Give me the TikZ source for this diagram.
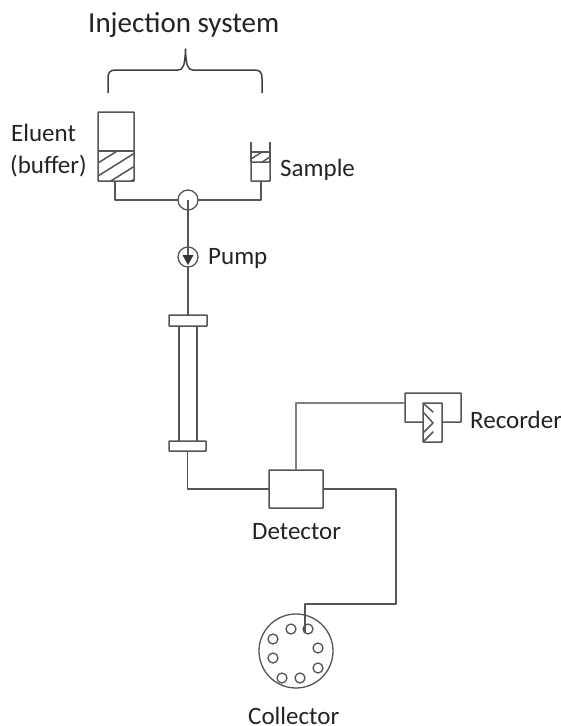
\documentclass[tikz,border=0pt]{standalone}
\usepackage{fontspec}
\setmainfont{Carlito}
\definecolor{ink}{RGB}{85,85,85}
\definecolor{txt}{RGB}{35,35,35}
\tikzset{
  x=1pt,y=-1pt,
  pipe/.style={draw=ink,line width=1.5pt,line join=round},
  part/.style={draw=ink,fill=white,line width=1.5pt,inner sep=0pt,outer sep=0pt,rectangle,rounded corners=0.5pt},
  ring/.style={draw=ink,fill=white,line width=1.3pt,circle,inner sep=0pt,outer sep=0pt},
  label/.style={text=txt,font=\fontsize{25}{30}\selectfont,inner sep=0pt,anchor=base west},
  hatchline/.style={draw=ink,line width=1.5pt},
}
\begin{document}
\begin{tikzpicture}
\useasboundingbox (0,0) rectangle (561,726);
% Texts
\node[label,font=\fontsize{29}{34}\selectfont] (title) at (88,32) {Injection system};
\node[label] (eluent) at (11,141) {Eluent};
\node[label] (buffer) at (10,173) {(buffer)};
\node[label] (sampletxt) at (280,176) {Sample};
\node[label] (pumptxt) at (208,264) {Pump};
\node[label] (recordertxt) at (470,428) {Recorder};
\node[label] (detectortxt) at (252,539) {Detector};
\node[label] (collectortxt) at (248,724) {Collector};
% Brace
\coordinate (bl) at (108,93);
\coordinate (br) at (262,93);
\coordinate (bt) at (185.5,49);
\draw[draw=black!75,line width=1.5pt,line join=round]
  (bl) -- (108,79) .. controls (108,72) and (110,70) .. (116,70)
  -- (178,70) .. controls (183,70) and (185,66) .. (bt)
  .. controls (186,66) and (188,70) .. (193,70)
  -- (254,70) .. controls (260,70) and (262,72) .. (262,79) -- (br);
% Reservoirs and inlet piping
\coordinate (junction) at (188,200);
\coordinate (elbowL) at (115,200);
\coordinate (elbowR) at (261,200);
\node[part,minimum width=36pt,minimum height=69pt] (eluentbox) at (116,146.5) {};
\node[part,minimum width=19pt,minimum height=19pt] (samplebox) at (260.5,171.5) {};
\draw[pipe] (eluentbox.south -| elbowL) -- (elbowL) -- (elbowR) -- (samplebox.south -| elbowR);
\draw[pipe] (251,142) -- (samplebox.north west);
\draw[pipe] (270,142) -- (samplebox.north east);
% Eluent liquid
\draw[pipe] (98,151) -- (134,151);
\begin{scope}
  \clip (98,151) rectangle (134,181);
  \foreach \c in {163,176,189,202} {
    \draw[hatchline] (98,\c) -- (134,\c-22.5);
  }
\end{scope}
% Sample liquid
\draw[pipe] (251,152) -- (270,152);
\begin{scope}
  \clip (251,152) rectangle (270,162);
  \foreach \c in {159,169,179} {
    \draw[hatchline,line width=1.4pt] (251,\c) -- (270,\c-12);
  }
\end{scope}
% Column and main line
\node[part,minimum width=38pt,minimum height=11pt] (flangeT) at (188,320.5) {};
\node[part,minimum width=37pt,minimum height=10pt] (flangeB) at (187.5,446) {};
\node[part,minimum width=54pt,minimum height=38pt] (detector) at (296,489) {};
\node[ring,minimum size=20pt] (valve) at (junction) {};
\node[ring,minimum size=20pt] (pump) at (188,257) {};
\draw[pipe] (valve.center) -- (pump.center);
\draw[pipe] (pump.south) -- (flangeT.north);
\fill[black!80] (182.5,255) -- (193.5,255) -- (188,265) -- cycle;
\draw[pipe] (179,326) -- (179,441);
\draw[pipe] (197,326) -- (197,441);
\coordinate (colbend) at (187.5,489);
\draw[pipe] (flangeB.south) -- (colbend) -- (detector.west);
% Recorder
\node[part,fill=none,minimum width=56pt,minimum height=29pt] (recorderbox) at (433,407.5) {};
\node[part,minimum width=19pt,minimum height=39pt] (chart) at (432.5,422.5) {};
\draw[ink,line width=1.5pt,line cap=round] (424,404) -- (433,412);
\draw[ink,line width=1.5pt,line join=round,line cap=round] (424,413) -- (433,423) -- (424,432);
\draw[ink,line width=1.5pt,line cap=round] (424,441) -- (433,432);
\coordinate (sigbend) at (296,403);
\draw[pipe,line width=1.3pt,draw=ink!75] (detector.north) -- (sigbend) -- (sigbend -| recorderbox.west);
% Collector
\node[ring,minimum size=74pt] (collector) at (296,651) {};
\foreach \i/\px/\py in {1/308/629,2/291/629,3/273/639,4/273/658,5/282/678,6/300/678,7/318/668,8/318/648} {
  \node[ring,minimum size=10pt] (vial\i) at (\px,\py) {};
}
\coordinate (c1) at (396,604);
\coordinate (c2) at (305,604);
\coordinate (c3) at (305,633);
\draw[pipe] (detector.east) -- (detector.east -| c1) -- (c1) -- (c2) -- (c3);
\end{tikzpicture}
\end{document}
